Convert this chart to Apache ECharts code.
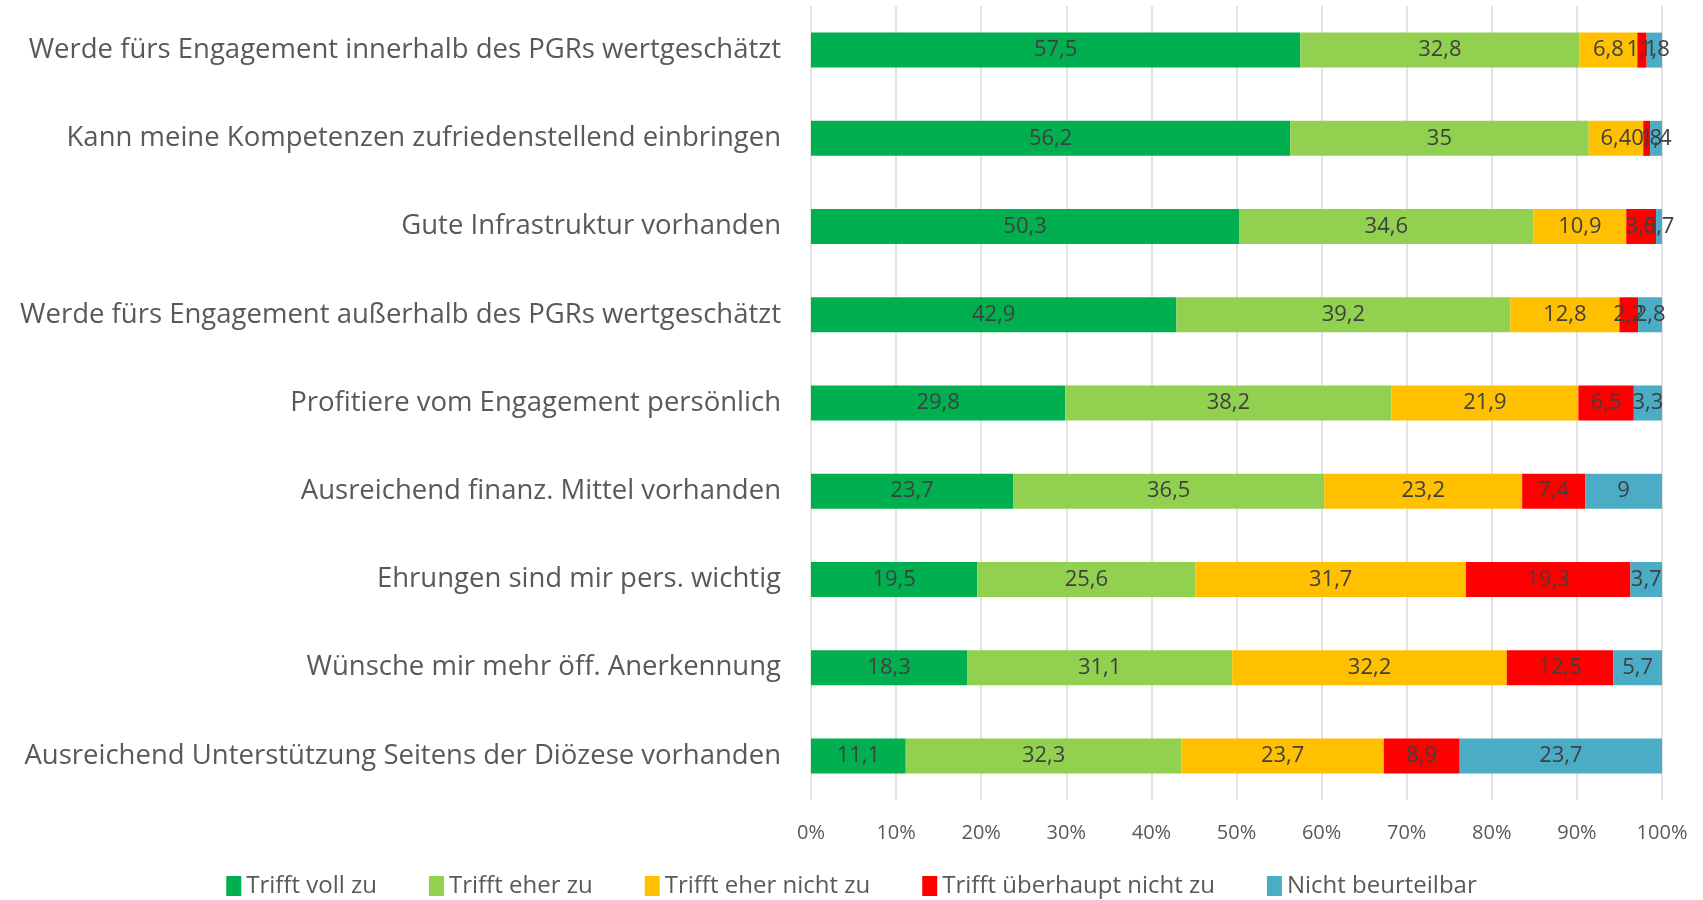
<!DOCTYPE html>
<html>
<head>
<meta charset="utf-8">
<script src="https://cdn.jsdelivr.net/npm/echarts@6/dist/echarts.min.js"></script>
<style>
html, body { margin: 0; padding: 0; background: #fff; }
#main { width: 1703px; height: 900px; }
</style>
</head>
<body>
<div id="main"></div>
<script>
// Kategorien von oben nach unten
var categories = [
    "Werde fürs Engagement innerhalb des PGRs wertgeschätzt",
    "Kann meine Kompetenzen zufriedenstellend einbringen",
    "Gute Infrastruktur vorhanden",
    "Werde fürs Engagement außerhalb des PGRs wertgeschätzt",
    "Profitiere vom Engagement persönlich",
    "Ausreichend finanz. Mittel vorhanden",
    "Ehrungen sind mir pers. wichtig",
    "Wünsche mir mehr öff. Anerkennung",
    "Ausreichend Unterstützung Seitens der Diözese vorhanden"
];
var seriesNames = ["Trifft voll zu", "Trifft eher zu", "Trifft eher nicht zu", "Trifft überhaupt nicht zu", "Nicht beurteilbar"];
var vollZu      = [57.5, 56.2, 50.3, 42.9, 29.8, 23.7, 19.5, 18.3, 11.1];
var eherZu      = [32.8, 35, 34.6, 39.2, 38.2, 36.5, 25.6, 31.1, 32.3];
var eherNichtZu = [6.8, 6.4, 10.9, 12.8, 21.9, 23.2, 31.7, 32.2, 23.7];
var garNichtZu  = [1.1, 0.8, 3.5, 2.2, 6.5, 7.4, 19.3, 12.5, 8.9];
var nichtBeurt  = [1.8, 1.4, 0.7, 2.8, 3.3, 9, 3.7, 5.7, 23.7];
var colors = ["#00B050", "#92D050", "#FFC000", "#FF0000", "#4BACC6"];

var rawData = [vollZu, eherZu, eherNichtZu, garNichtZu, nichtBeurt];

// 100%-gestapelt: auf Zeilensumme normieren
var totals = categories.map(function (c, i) {
    var s = 0;
    rawData.forEach(function (arr) { s += arr[i]; });
    return s;
});

var fontName = "Open Sans";
var series = rawData.map(function (arr, k) {
    return {
        name: seriesNames[k],
        type: "bar",
        stack: "total",
        barWidth: 35,
        itemStyle: { color: colors[k] },
        label: {
            show: true,
            position: "inside",
            color: "#404040",
            fontFamily: fontName,
            fontSize: 22,
            formatter: function (p) { return String(arr[p.dataIndex]).replace(".", ","); }
        },
        data: arr.map(function (v, i) { return v / totals[i] * 100; })
    };
});

var myChart = echarts.init(document.getElementById("main"));
myChart.setOption({
    animation: false,
    textStyle: { fontFamily: fontName },
    grid: { left: 811, right: 41, top: 6, bottom: 100, containLabel: false },
    legend: {
        bottom: -3,
        left: "center",
        itemWidth: 15,
        itemHeight: 20,
        itemGap: 52,
        icon: "rect",
        textStyle: { color: "#595959", fontSize: 24, fontFamily: fontName }
    },
    xAxis: {
        type: "value",
        min: 0,
        max: 100,
        interval: 10,
        axisLine: { show: false },
        axisTick: { show: false },
        splitLine: { show: true, lineStyle: { color: "#d9d9d9", width: 1.5 } },
        axisLabel: {
            color: "#595959",
            fontSize: 20,
            margin: 23,
            formatter: function (v) { return v + "%"; }
        }
    },
    yAxis: {
        type: "category",
        inverse: true,
        data: categories,
        axisLine: { show: false },
        axisTick: { show: false },
        axisLabel: { color: "#595959", fontSize: 27.5, margin: 30 }
    },
    series: series
});
</script>
</body>
</html>
